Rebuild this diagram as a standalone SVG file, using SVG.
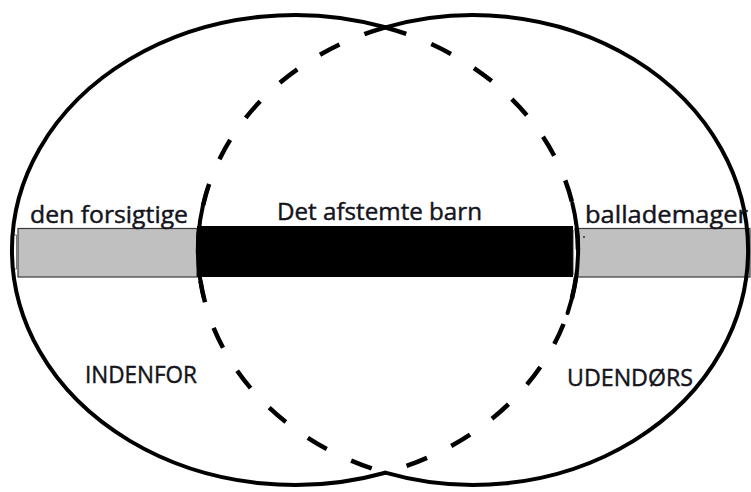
<svg xmlns="http://www.w3.org/2000/svg" width="751" height="492" viewBox="0 0 751 492">
<defs>
<style>
.solid{fill:none;stroke:#000;stroke-width:4;stroke-linecap:round}
.dash{fill:none;stroke:#000;stroke-width:4.5;stroke-dasharray:22 27}
.grey{fill:#c0c0c0;stroke:#3a3a3a;stroke-width:1.2}
.lbl{font-family:"Open Sans","Noto Sans",sans-serif;font-size:24px;fill:#14141c;stroke:#14141c;stroke-width:0.45}
</style>
</defs>
<rect x="0" y="0" width="751" height="492" fill="#fff"/>
<g id="bar">
<rect class="grey" x="18" y="228.5" width="179" height="48.5"/>
<rect x="197" y="226" width="376" height="51" fill="#000"/>
<line x1="573.5" y1="230" x2="573.5" y2="275" stroke="#9a9a9a" stroke-width="1.2"/>
<rect class="grey" x="578" y="228.5" width="172" height="48.5"/>
<rect x="13.5" y="235" width="3" height="34" fill="#fff" stroke="#555" stroke-width="0.8"/>
<rect x="583" y="236" width="2" height="2" fill="#555"/>
</g>
<g id="connectors">
<path id="left-outer" class="solid" d="M 385.3 27.3 A 283 235 0 1 0 385.3 472.7"/>
<path id="right-outer" class="solid" d="M 385.3 27.3 A 275 235 0 1 1 385.3 472.7"/>
<path id="left-inner" class="dash" d="M 385.3 27.3 A 283 235 0 0 1 385.3 472.7"/>
<path id="right-inner" class="dash" d="M 385.3 27.3 A 275 235 0 0 0 385.3 472.7"/>
<path class="solid" d="M 572.3 203 A 283 235 0 0 1 567.6 313"/>
<path class="solid" d="M 207.1 190 A 275 235 0 0 0 203.6 297"/>
</g>
<g id="label-forsigtige"><text class="lbl" x="30" y="223" textLength="158" lengthAdjust="spacingAndGlyphs">den forsigtige</text></g>
<g id="label-afstemte"><text class="lbl" x="277" y="220" textLength="205" lengthAdjust="spacingAndGlyphs">Det afstemte barn</text></g>
<g id="label-ballademager"><text class="lbl" x="585" y="223" textLength="163" lengthAdjust="spacingAndGlyphs">ballademager</text></g>
<g id="label-indenfor"><text class="lbl" x="85" y="383" textLength="112" lengthAdjust="spacingAndGlyphs">INDENFOR</text></g>
<g id="label-udendors"><text class="lbl" x="567" y="386" textLength="126" lengthAdjust="spacingAndGlyphs">UDENDØRS</text></g>
</svg>
